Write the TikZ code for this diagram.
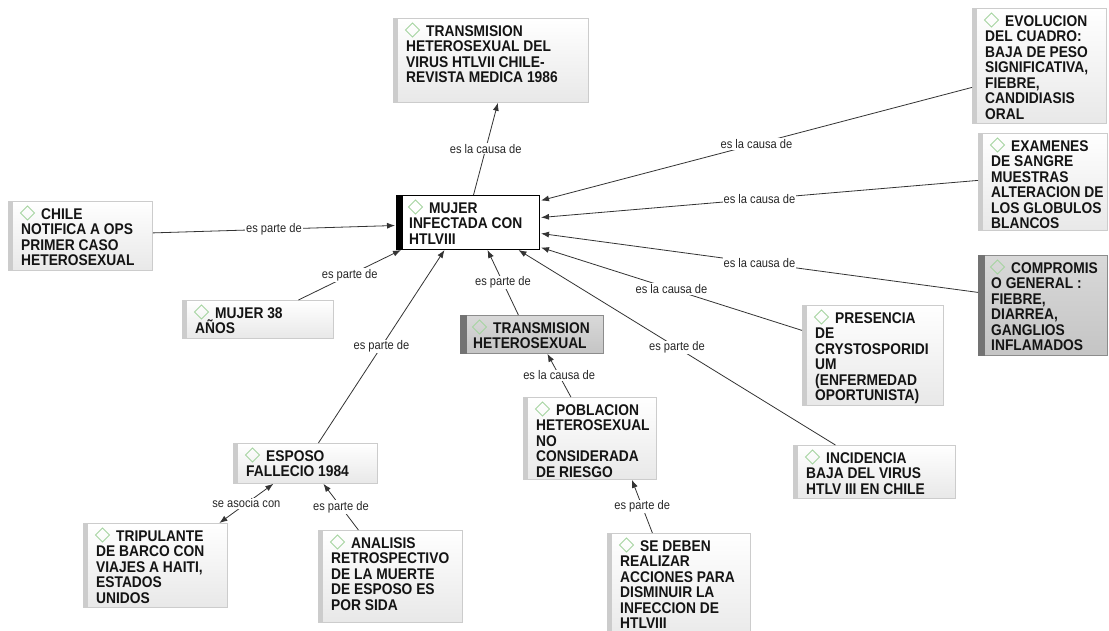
\documentclass[tikz,border=0pt]{standalone}
\usepackage{fontspec}
\setmainfont{Liberation Sans}
\newfontfamily\boxfont[FakeStretch=0.89]{Liberation Sans}
\usetikzlibrary{arrows.meta}

\definecolor{diacol}{RGB}{165,212,160}

\tikzset{
  conn/.style={draw=black!80, line width=0.8pt, -{Latex[length=8pt,width=6pt]}},
  biconn/.style={draw=black!80, line width=0.8pt, {Latex[length=8pt,width=6pt]}-{Latex[length=8pt,width=6pt]}},
  lbl/.style={font=\boxfont\fontsize{12.5}{14}\selectfont, text=black!85, fill=white, inner sep=1pt},
  boxplain/.style={draw=black!20, top color=white, bottom color=black!9, line width=0.8pt},
  barplain/.style={fill=black!20},
  boxdark/.style={draw=black!45, top color=black!15, bottom color=black!23, line width=0.8pt},
  bardark/.style={fill=black!55},
  boxmain/.style={draw=black, fill=white, line width=1pt},
  barmain/.style={fill=black},
  ctext/.style={font=\boxfont\fontsize{15.5}{15.5}\selectfont\bfseries, align=left, inner sep=0pt, text=black!92},
}

% concept box: name, x, y, width, height, kind, bar width, text
\newcommand\concept[8]{%
  \node[box#6, rectangle, minimum width=#4, minimum height=#5, anchor=north west, inner sep=0pt] (#1) at (#2,#3) {};
  \fill[bar#6] (#1.north west) rectangle ([xshift=#7]#1.south west);
  \draw[diacol, line width=0.9pt] ([xshift=12.5,yshift=-12]#1.north west) -- ++(7,7) -- ++(7,-7) -- ++(-7,-7) -- cycle;
  \node[ctext, anchor=north west] (#1-t) at ([xshift=13,yshift=-6]#1.north west) {\rule{0pt}{12pt}\hspace{20pt}#8};
}

\begin{document}
\begin{tikzpicture}[x=1pt,y=-1pt]
\useasboundingbox (0,0) rectangle (1109,630);
\clip (0,0) rectangle (1109,630);
\fill[white] (0,0) rectangle (1109,630);

% concepts
\concept{t1986}{393}{18}{195}{84}{plain}{5}{TRANSMISION\\HETEROSEXUAL DEL\\VIRUS HTLVII CHILE-\\REVISTA MEDICA 1986}
\concept{mujer}{396}{195}{143}{54}{main}{7}{MUJER\\INFECTADA CON\\HTLVIII}
\concept{chile}{8}{201}{144}{69}{plain}{5}{CHILE\\NOTIFICA A OPS\\PRIMER CASO\\HETEROSEXUAL}
\concept{evol}{972}{8}{134}{115}{plain}{5}{EVOLUCION\\DEL CUADRO:\\BAJA DE PESO\\SIGNIFICATIVA,\\FIEBRE,\\CANDIDIASIS\\ORAL}
\concept{exam}{978}{133}{129}{97}{plain}{5}{EXAMENES\\DE SANGRE\\MUESTRAS\\ALTERACION DE\\LOS GLOBULOS\\BLANCOS}
\concept{comp}{978}{255}{129}{100}{dark}{7}{COMPROMIS\\O GENERAL :\\FIEBRE,\\DIARREA,\\GANGLIOS\\INFLAMADOS}
\concept{pres}{802}{305}{141}{100}{plain}{5}{PRESENCIA\\DE\\CRYSTOSPORIDI\\UM\\(ENFERMEDAD\\OPORTUNISTA)}
\concept{incid}{793}{445}{162}{53}{plain}{5}{INCIDENCIA\\BAJA DEL VIRUS\\HTLV III EN CHILE}
\concept{m38}{182}{300}{151}{38}{plain}{5}{MUJER 38\\AÑOS}
\concept{theter}{460}{315}{143}{38}{dark}{7}{TRANSMISION\\HETEROSEXUAL}
\concept{pobl}{523}{397}{133}{82}{plain}{5}{POBLACION\\HETEROSEXUAL\\NO\\CONSIDERADA\\DE RIESGO}
\concept{esposo}{233}{443}{144}{40}{plain}{5}{ESPOSO\\FALLECIO 1984}
\concept{trip}{83}{523}{144}{84}{plain}{5}{TRIPULANTE\\DE BARCO CON\\VIAJES A HAITI,\\ESTADOS\\UNIDOS}
\concept{anal}{318}{530}{144}{92}{plain}{5}{ANALISIS\\RETROSPECTIVO\\DE LA MUERTE\\DE ESPOSO ES\\POR SIDA}
\concept{sedeben}{607}{533}{143}{110}{plain}{5}{SE DEBEN\\REALIZAR\\ACCIONES PARA\\DISMINUIR LA\\INFECCION DE\\HTLVIII}

% links
\draw[conn] ([xshift=5.5]mujer.north) -- node[lbl] (l1) {es la causa de} ([xshift=7]t1986.south);
\draw[conn] ([yshift=3]chile.east) -- node[lbl] (l2) {es parte de} ([yshift=-3,xshift=-1]mujer.west);
\draw[conn] ([xshift=40.5]m38.north) -- node[lbl] (l3) {es parte de} ([xshift=5]mujer.south west);
\draw[conn] ([xshift=13]esposo.north) -- node[lbl] (l4) {es parte de} ([xshift=-23.5]mujer.south);
\draw[conn] ([xshift=-13.5]theter.north) -- node[lbl] (l5) {es parte de} ([xshift=19.5]mujer.south);
\draw[conn] ([xshift=-39]incid.north) -- node[lbl] (l6) {es parte de} ([xshift=50.5]mujer.south);
\draw[conn] ([yshift=25]pres.west) -- node[lbl] (l7) {es la causa de} ([yshift=-25,xshift=1]mujer.east);
\draw[conn] ([yshift=13]comp.west) -- node[lbl] (l8) {es la causa de} ([yshift=-11,xshift=1]mujer.east);
\draw[conn] ([yshift=1.5]exam.west) -- node[lbl] (l9) {es la causa de} ([yshift=5,xshift=1]mujer.east);
\draw[conn] ([yshift=-21.5]evol.west) -- node[lbl] (l10) {es la causa de} ([yshift=22,xshift=1]mujer.east);
\draw[conn] ([xshift=-19]pobl.north) -- node[lbl] (l11) {es la causa de} ([xshift=15.5]theter.south);
\draw[conn] ([xshift=-26.5]sedeben.north) -- node[lbl] (l12) {es parte de} ([xshift=42]pobl.south);
\draw[conn] ([xshift=-32]anal.north) -- node[lbl] (l13) {es parte de} ([xshift=18]esposo.south);
\draw[biconn] ([xshift=64]trip.north) -- node[lbl] (l14) {se asocia con} ([xshift=-32]esposo.south);
\end{tikzpicture}
\end{document}
